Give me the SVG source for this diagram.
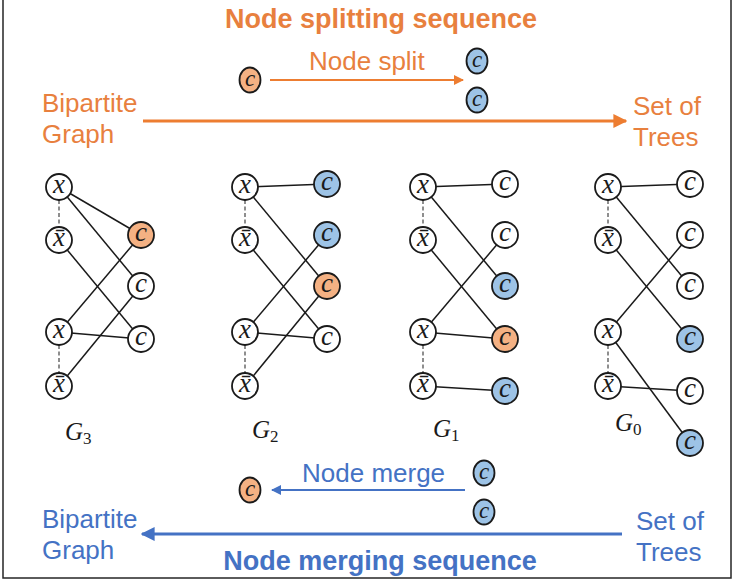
<svg xmlns="http://www.w3.org/2000/svg" width="743" height="582" viewBox="0 0 743 582">
  <defs>
    <style>
      .frame { fill: #ffffff; stroke: #262626; stroke-width: 1.5; }
      .node { stroke: #1a1a1a; stroke-width: 1.8; fill: #ffffff; }
      .node.orange { fill: #F4B183; }
      .node.blue { fill: #9DC3E6; }
      .var { font-family: "Liberation Serif", "DejaVu Serif", serif; font-style: italic; font-size: 27px; fill: #1a1a1a; text-anchor: middle; }
      .var.small { font-size: 23px; }
      .edge { stroke: #1a1a1a; stroke-width: 1.5; fill: none; }
      .pair { stroke: #444444; stroke-width: 1.2; stroke-dasharray: 4 2.5; fill: none; }
      .glabel { font-family: "Liberation Serif", "DejaVu Serif", serif; font-style: italic; font-size: 25px; fill: #1a1a1a; }
      .gsub { font-style: normal; font-size: 17px; }
      .txt { font-family: "Liberation Sans", Arial, sans-serif; font-size: 26px; }
      .title { font-family: "Liberation Sans", Arial, sans-serif; font-size: 27px; font-weight: bold; text-anchor: middle; }
      .or { fill: #E8803E; }
      .bl { fill: #4472C4; }
      .arrow-or { stroke: #ED7D31; fill: none; }
      .arrow-bl { stroke: #4472C4; fill: none; }
    </style>
    <marker id="headOr" viewBox="0 0 10 10" refX="9" refY="5" markerWidth="14" markerHeight="14" markerUnits="userSpaceOnUse" orient="auto">
      <path d="M0,0 L10,5 L0,10 Z" fill="#ED7D31"/>
    </marker>
    <marker id="headOrSmall" viewBox="0 0 10 10" refX="9" refY="5" markerWidth="10" markerHeight="10" markerUnits="userSpaceOnUse" orient="auto">
      <path d="M0,0 L10,5 L0,10 Z" fill="#ED7D31"/>
    </marker>
    <marker id="headBl" viewBox="0 0 10 10" refX="9" refY="5" markerWidth="14" markerHeight="14" markerUnits="userSpaceOnUse" orient="auto">
      <path d="M0,0 L10,5 L0,10 Z" fill="#4472C4"/>
    </marker>
    <marker id="headBlSmall" viewBox="0 0 10 10" refX="9" refY="5" markerWidth="10" markerHeight="10" markerUnits="userSpaceOnUse" orient="auto">
      <path d="M0,0 L10,5 L0,10 Z" fill="#4472C4"/>
    </marker>
  </defs>

  <!-- outer frame -->
  <rect class="frame" x="3" y="-4" width="728" height="582"/>

  <!-- splitting sequence (top) -->
  <g id="split-header">
    <text class="title or" x="381" y="28">Node splitting sequence</text>
    <text class="txt or" x="309" y="70">Node split</text>
    <text class="txt or" x="42" y="112">Bipartite</text>
    <text class="txt or" x="42" y="143">Graph</text>
    <text class="txt or" x="633" y="115">Set of</text>
    <text class="txt or" x="633" y="146">Trees</text>
  </g>
  <g id="split-demo">
    <ellipse class="node orange" cx="250" cy="80" rx="10.5" ry="12.5"/>
    <text class="var small" x="250" y="86">c</text>
    <ellipse class="node blue" cx="477" cy="61" rx="10.5" ry="12.5"/>
    <text class="var small" x="477" y="67">c</text>
    <ellipse class="node blue" cx="477" cy="100" rx="10.5" ry="12.5"/>
    <text class="var small" x="477" y="106">c</text>
  </g>

  <!-- merging sequence (bottom) -->
  <g id="merge-header">
    <text class="txt bl" x="302" y="482">Node merge</text>
    <text class="txt bl" x="42" y="528">Bipartite</text>
    <text class="txt bl" x="42" y="559">Graph</text>
    <text class="txt bl" x="636" y="530">Set of</text>
    <text class="txt bl" x="636" y="561">Trees</text>
    <text class="title bl" x="380" y="570">Node merging sequence</text>
  </g>
  <g id="merge-demo">
    <ellipse class="node orange" cx="250" cy="490" rx="10.5" ry="12.5"/>
    <text class="var small" x="250" y="496">c</text>
    <ellipse class="node blue" cx="484" cy="473" rx="10.5" ry="12.5"/>
    <text class="var small" x="484" y="479">c</text>
    <ellipse class="node blue" cx="484" cy="512" rx="10.5" ry="12.5"/>
    <text class="var small" x="484" y="518">c</text>
  </g>

  <!-- connectors -->
  <g id="connectors">
    <!-- sequence arrows -->
    <line class="arrow-or" x1="270" y1="80" x2="463" y2="80" stroke-width="2" marker-end="url(#headOrSmall)"/>
    <line class="arrow-or" x1="143" y1="121" x2="626" y2="121" stroke-width="3" marker-end="url(#headOr)"/>
    <line class="arrow-bl" x1="465" y1="490" x2="272" y2="490" stroke-width="2" marker-end="url(#headBlSmall)"/>
    <line class="arrow-bl" x1="622" y1="534" x2="142" y2="534" stroke-width="3" marker-end="url(#headBl)"/>

    <!-- G3 -->
    <line class="pair" x1="59" y1="187" x2="59" y2="240"/>
    <line class="pair" x1="59" y1="332" x2="59" y2="386"/>
    <line class="edge" x1="59" y1="187" x2="141" y2="235"/>
    <line class="edge" x1="59" y1="187" x2="141" y2="286"/>
    <line class="edge" x1="59" y1="240" x2="141" y2="339"/>
    <line class="edge" x1="59" y1="332" x2="141" y2="235"/>
    <line class="edge" x1="59" y1="332" x2="141" y2="339"/>
    <line class="edge" x1="59" y1="386" x2="141" y2="286"/>

    <!-- G2 -->
    <line class="pair" x1="245" y1="187" x2="245" y2="240"/>
    <line class="pair" x1="245" y1="332" x2="245" y2="386"/>
    <line class="edge" x1="245" y1="187" x2="327" y2="184"/>
    <line class="edge" x1="245" y1="187" x2="327" y2="286"/>
    <line class="edge" x1="245" y1="240" x2="327" y2="339"/>
    <line class="edge" x1="245" y1="332" x2="327" y2="235"/>
    <line class="edge" x1="245" y1="332" x2="327" y2="339"/>
    <line class="edge" x1="245" y1="386" x2="327" y2="286"/>

    <!-- G1 -->
    <line class="pair" x1="423" y1="187" x2="423" y2="240"/>
    <line class="pair" x1="423" y1="332" x2="423" y2="386"/>
    <line class="edge" x1="423" y1="187" x2="505" y2="184"/>
    <line class="edge" x1="423" y1="187" x2="505" y2="286"/>
    <line class="edge" x1="423" y1="240" x2="505" y2="339"/>
    <line class="edge" x1="423" y1="332" x2="505" y2="235"/>
    <line class="edge" x1="423" y1="332" x2="505" y2="339"/>
    <line class="edge" x1="423" y1="386" x2="505" y2="391"/>

    <!-- G0 -->
    <line class="pair" x1="608" y1="187" x2="608" y2="240"/>
    <line class="pair" x1="608" y1="332" x2="608" y2="386"/>
    <line class="edge" x1="608" y1="187" x2="690" y2="184"/>
    <line class="edge" x1="608" y1="187" x2="690" y2="286"/>
    <line class="edge" x1="608" y1="240" x2="690" y2="339"/>
    <line class="edge" x1="608" y1="332" x2="690" y2="235"/>
    <line class="edge" x1="608" y1="332" x2="690" y2="443"/>
    <line class="edge" x1="608" y1="386" x2="690" y2="391"/>
  </g>

  <!-- G3 nodes -->
  <g id="G3">
    <g id="g3-x1"><circle class="node" cx="59" cy="187" r="13"/><text class="var" x="59" y="193">x</text></g>
    <g id="g3-xb1"><circle class="node" cx="59" cy="240" r="13"/><text class="var" x="59" y="246">x̄</text></g>
    <g id="g3-x2"><circle class="node" cx="59" cy="332" r="13"/><text class="var" x="59" y="338">x</text></g>
    <g id="g3-xb2"><circle class="node" cx="59" cy="386" r="13"/><text class="var" x="59" y="392">x̄</text></g>
    <g id="g3-c2"><circle class="node orange" cx="141" cy="235" r="13"/><text class="var" x="141" y="241">c</text></g>
    <g id="g3-c3"><circle class="node" cx="141" cy="286" r="13"/><text class="var" x="141" y="292">c</text></g>
    <g id="g3-c4"><circle class="node" cx="141" cy="339" r="13"/><text class="var" x="141" y="345">c</text></g>
    <text class="glabel" x="65" y="440">G<tspan class="gsub" dy="4">3</tspan></text>
  </g>

  <!-- G2 nodes -->
  <g id="G2">
    <g id="g2-x1"><circle class="node" cx="245" cy="187" r="13"/><text class="var" x="245" y="193">x</text></g>
    <g id="g2-xb1"><circle class="node" cx="245" cy="240" r="13"/><text class="var" x="245" y="246">x̄</text></g>
    <g id="g2-x2"><circle class="node" cx="245" cy="332" r="13"/><text class="var" x="245" y="338">x</text></g>
    <g id="g2-xb2"><circle class="node" cx="245" cy="386" r="13"/><text class="var" x="245" y="392">x̄</text></g>
    <g id="g2-c1"><circle class="node blue" cx="327" cy="184" r="13"/><text class="var" x="327" y="190">c</text></g>
    <g id="g2-c2"><circle class="node blue" cx="327" cy="235" r="13"/><text class="var" x="327" y="241">c</text></g>
    <g id="g2-c3"><circle class="node orange" cx="327" cy="286" r="13"/><text class="var" x="327" y="292">c</text></g>
    <g id="g2-c4"><circle class="node" cx="327" cy="339" r="13"/><text class="var" x="327" y="345">c</text></g>
    <text class="glabel" x="252" y="438">G<tspan class="gsub" dy="4">2</tspan></text>
  </g>

  <!-- G1 nodes -->
  <g id="G1">
    <g id="g1-x1"><circle class="node" cx="423" cy="187" r="13"/><text class="var" x="423" y="193">x</text></g>
    <g id="g1-xb1"><circle class="node" cx="423" cy="240" r="13"/><text class="var" x="423" y="246">x̄</text></g>
    <g id="g1-x2"><circle class="node" cx="423" cy="332" r="13"/><text class="var" x="423" y="338">x</text></g>
    <g id="g1-xb2"><circle class="node" cx="423" cy="386" r="13"/><text class="var" x="423" y="392">x̄</text></g>
    <g id="g1-c1"><circle class="node" cx="505" cy="184" r="13"/><text class="var" x="505" y="190">c</text></g>
    <g id="g1-c2"><circle class="node" cx="505" cy="235" r="13"/><text class="var" x="505" y="241">c</text></g>
    <g id="g1-c3"><circle class="node blue" cx="505" cy="286" r="13"/><text class="var" x="505" y="292">c</text></g>
    <g id="g1-c4"><circle class="node orange" cx="505" cy="339" r="13"/><text class="var" x="505" y="345">c</text></g>
    <g id="g1-c5"><circle class="node blue" cx="505" cy="391" r="13"/><text class="var" x="505" y="397">c</text></g>
    <text class="glabel" x="433" y="437">G<tspan class="gsub" dy="4">1</tspan></text>
  </g>

  <!-- G0 nodes -->
  <g id="G0">
    <g id="g0-x1"><circle class="node" cx="608" cy="187" r="13"/><text class="var" x="608" y="193">x</text></g>
    <g id="g0-xb1"><circle class="node" cx="608" cy="240" r="13"/><text class="var" x="608" y="246">x̄</text></g>
    <g id="g0-x2"><circle class="node" cx="608" cy="332" r="13"/><text class="var" x="608" y="338">x</text></g>
    <g id="g0-xb2"><circle class="node" cx="608" cy="386" r="13"/><text class="var" x="608" y="392">x̄</text></g>
    <g id="g0-c1"><circle class="node" cx="690" cy="184" r="13"/><text class="var" x="690" y="190">c</text></g>
    <g id="g0-c2"><circle class="node" cx="690" cy="235" r="13"/><text class="var" x="690" y="241">c</text></g>
    <g id="g0-c3"><circle class="node" cx="690" cy="286" r="13"/><text class="var" x="690" y="292">c</text></g>
    <g id="g0-c4"><circle class="node blue" cx="690" cy="339" r="13"/><text class="var" x="690" y="345">c</text></g>
    <g id="g0-c5"><circle class="node" cx="690" cy="391" r="13"/><text class="var" x="690" y="397">c</text></g>
    <g id="g0-c6"><circle class="node blue" cx="690" cy="443" r="13"/><text class="var" x="690" y="449">c</text></g>
    <text class="glabel" x="615" y="431">G<tspan class="gsub" dy="4">0</tspan></text>
  </g>
</svg>
